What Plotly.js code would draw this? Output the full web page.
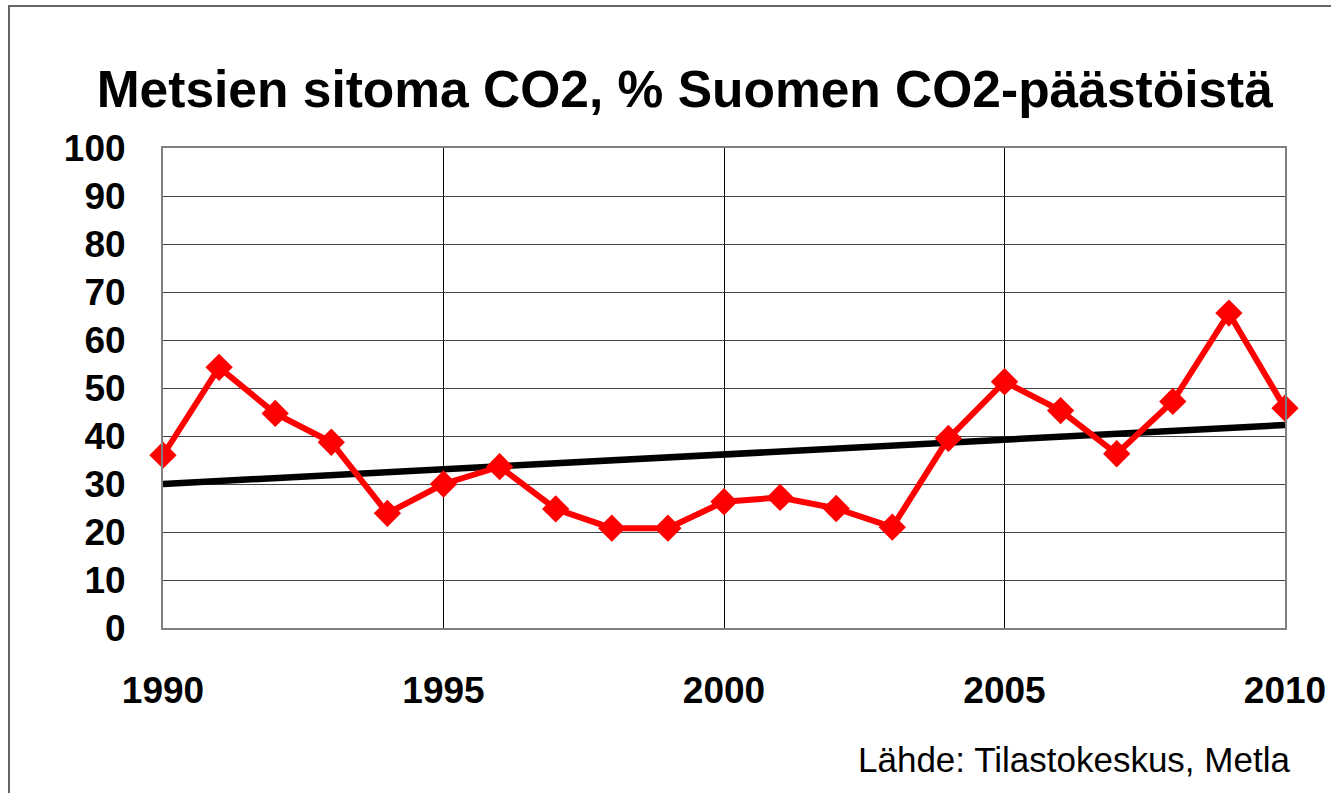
<!DOCTYPE html>
<html>
<head>
<meta charset="utf-8">
<script src="https://cdn.plot.ly/plotly-3.0.1.min.js"></script>
<style>
  html, body { margin: 0; padding: 0; background: #fff; }
  #wrap { position: relative; width: 1331px; height: 793px; overflow: hidden; }
  #chart { position: absolute; left: 0; top: 0; width: 1331px; height: 793px; }
  #frame { position: absolute; left: 8px; top: 5px; width: 1400px; height: 900px;
           border-left: 2px solid #666; border-top: 2px solid #666; pointer-events: none; }
</style>
</head>
<body>
<div id="wrap">
  <div id="chart"></div>
  <div id="frame"></div>
</div>
<script>
// Data
const years = [1990, 1991, 1992, 1993, 1994, 1995, 1996, 1997, 1998, 1999, 2000,
               2001, 2002, 2003, 2004, 2005, 2006, 2007, 2008, 2009, 2010];
const sinkShare = [36.0, 54.3, 44.7, 38.7, 23.9, 30.0, 33.6, 24.8, 20.8, 20.8, 26.3,
                   27.2, 24.9, 21.0, 39.5, 51.3, 45.3, 36.3, 47.2, 65.6, 45.8];
const trendYears = [1990, 2010];
const trendValues = [30.0, 42.3];
const yTicks = [0, 10, 20, 30, 40, 50, 60, 70, 80, 90, 100];
const xTicks = [1990, 1995, 2000, 2005, 2010];
const titleText = "Metsien sitoma CO2, % Suomen CO2-päästöistä";
const sourceText = "Lähde: Tilastokeskus, Metla";

const FONT = "Liberation Sans, Arial, sans-serif";

const traces = [
  {
    x: trendYears, y: trendValues, mode: "lines", type: "scatter",
    line: { color: "#000000", width: 6.5 }, hoverinfo: "skip", showlegend: false,
    cliponaxis: false
  },
  {
    x: years, y: sinkShare, mode: "lines+markers", type: "scatter",
    line: { color: "#ff0000", width: 6 },
    marker: { symbol: "diamond", size: 21, color: "#ff0000" },
    showlegend: false, cliponaxis: false
  }
];

const layout = {
  width: 1331, height: 793,
  margin: { l: 163, r: 46, t: 148, b: 165, pad: 0 },
  paper_bgcolor: "rgba(0,0,0,0)", plot_bgcolor: "#ffffff",
  showlegend: false,
  title: {
    text: "<b>" + titleText + "</b>",
    font: { family: FONT, size: 51.5, color: "#000" },
    xref: "container", yref: "container",
    x: 0.5145, xanchor: "center",
    y: 1 - 89 / 793, yanchor: "middle"
  },
  xaxis: {
    range: [1990, 2010], tickvals: xTicks, ticktext: xTicks.map(String),
    showgrid: true, gridcolor: "#000000", gridwidth: 1,
    zeroline: false, showline: true, linecolor: "#808080", linewidth: 2, mirror: true,
    ticks: "", ticklabelstandoff: 29,
    tickfont: { family: FONT, size: 37, color: "#000", weight: "bold" }
  },
  yaxis: {
    range: [0, 100], tickvals: yTicks, ticktext: yTicks.map(String),
    showgrid: true, gridcolor: "#444444", gridwidth: 1,
    zeroline: false, showline: true, linecolor: "#808080", linewidth: 2, mirror: true,
    ticks: "", ticklabelstandoff: 28,
    tickfont: { family: FONT, size: 37, color: "#000", weight: "bold" }
  },
  annotations: [
    {
      text: sourceText, xref: "paper", yref: "paper",
      x: (1292 - 163) / 1122, xanchor: "right",
      y: (628 - 759) / 480, yanchor: "middle",
      showarrow: false,
      font: { family: FONT, size: 35, color: "#000" }
    }
  ]
};

Plotly.newPlot("chart", traces, layout, { displayModeBar: false, staticPlot: true });
</script>
</body>
</html>
